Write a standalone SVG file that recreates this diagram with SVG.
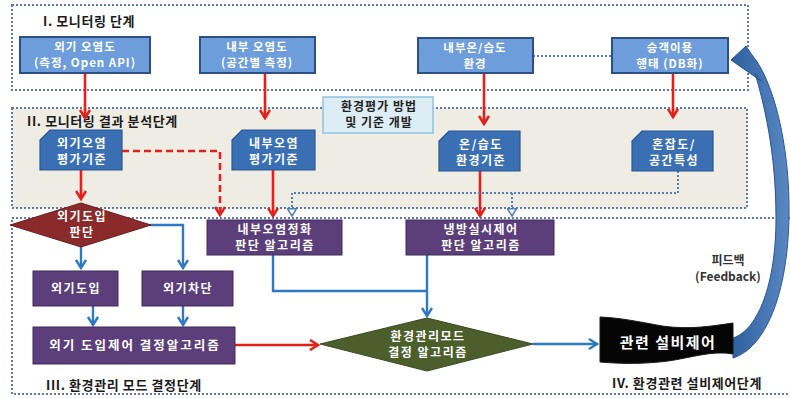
<svg xmlns="http://www.w3.org/2000/svg" width="790" height="398" viewBox="0 0 790 398">
<defs>
<style>
text{font-family:"Noto Sans CJK KR","Noto Sans",sans-serif;font-weight:bold;}
.ttl{font-size:13px;fill:#1a1a1a;letter-spacing:0.6px;}
.wt{font-size:12px;fill:#ffffff;text-anchor:middle;letter-spacing:1.5px;}
.tp{font-size:11.5px;fill:#ffffff;text-anchor:middle;letter-spacing:1px;}
.sec{fill:none;stroke:#5f7aa6;stroke-width:2;stroke-dasharray:2 2;}
.top{fill:#6d9ddb;stroke:#2d4f86;stroke-width:2;}
.card{fill:#3a70b3;stroke:#2b568f;stroke-width:1.2;}
.pur{fill:#5c3e7b;stroke:#3f2a58;stroke-width:1;}
.red{fill:none;stroke:#e3201b;stroke-width:2.6;}
.redd{fill:none;stroke:#e3201b;stroke-width:2.6;stroke-dasharray:7 4;}
.blu{fill:none;stroke:#2f78c2;stroke-width:2.4;}
.dot{fill:none;stroke:#4f7fbf;stroke-width:2;stroke-dasharray:2 2;}
</style>
<marker id="mr" viewBox="0 0 12 12" refX="10" refY="6" markerWidth="12" markerHeight="12" orient="auto" markerUnits="userSpaceOnUse"><path d="M2,1 L10,6 L2,11" fill="none" stroke="#e3201b" stroke-width="2.6"/></marker>
<marker id="mb" viewBox="0 0 12 12" refX="10" refY="6" markerWidth="12" markerHeight="12" orient="auto" markerUnits="userSpaceOnUse"><path d="M2,1 L10,6 L2,11" fill="none" stroke="#2f78c2" stroke-width="2.4"/></marker>
<marker id="mt" viewBox="0 0 12 12" refX="10" refY="6" markerWidth="11" markerHeight="11" orient="auto" markerUnits="userSpaceOnUse"><path d="M2,1 L10,6 L2,11 Z" fill="#ffffff" stroke="#4f7fbf" stroke-width="1.6"/></marker>
<linearGradient id="fb" x1="0" y1="0" x2="1" y2="0"><stop offset="0" stop-color="#2e5f9e"/><stop offset="1" stop-color="#5a88c4"/></linearGradient>
</defs>

<g id="stage1">
<rect class="sec" x="12" y="5" width="736" height="85" style="fill:#ffffff"/>
<text class="ttl" x="43" y="26">I. 모니터링 단계</text>
</g>
<g id="stage2">
<rect class="sec" x="12" y="108" width="735" height="100" style="fill:#efece4"/>
<text class="ttl" x="27" y="126">II. 모니터링 결과 분석단계</text>
</g>
<g id="stage34">
<rect class="sec" x="12" y="218" width="800" height="176"/>
<text class="ttl" x="46" y="390">III. 환경관리 모드 결정단계</text>
<text class="ttl" x="612" y="388">IV. 환경관련 설비제어단계</text>
</g>

<g id="connectors">
<path class="red" d="M85,73 V118" marker-end="url(#mr)"/>
<path class="red" d="M265,73 V118" marker-end="url(#mr)"/>
<path class="red" d="M484,73 V124" marker-end="url(#mr)"/>
<path class="red" d="M673,73 V117" marker-end="url(#mr)"/>
<path class="dot" d="M533,56 H612"/>
<path class="red" d="M81,170 V199" marker-end="url(#mr)"/>
<path class="redd" d="M122,151 H220 V215" marker-end="url(#mr)"/>
<path class="red" d="M273,170 V216" marker-end="url(#mr)"/>
<path class="red" d="M480,171 V216" marker-end="url(#mr)"/>
<path class="dot" d="M678,171 V193 H292 V216" marker-end="url(#mt)"/>
<path class="dot" d="M512,193 V216" marker-end="url(#mt)"/>
<path class="blu" d="M81,246 V268" marker-end="url(#mb)"/>
<path class="blu" d="M150,225 H183 V268" marker-end="url(#mb)"/>
<path class="blu" d="M93,306 V325" marker-end="url(#mb)"/>
<path class="blu" d="M183,306 V325" marker-end="url(#mb)"/>
<path class="red" d="M235,345 H318" marker-end="url(#mr)"/>
<path class="blu" d="M273,255 V291 H427"/>
<path class="blu" d="M427,255 V316" marker-end="url(#mb)"/>
<path class="blu" d="M533,344 H597" marker-end="url(#mb)"/>
<path d="M731,60 L746,46 L752,55 C772,78 790,142 789,215 C788,295 765,348 733,358 L733,338 C758,330 776,284 776,218 C776,152 764,104 755,73 L761,81 Z" fill="url(#fb)" stroke="#2a568f" stroke-width="1"/>
</g>

<g id="n-outdoor">
<rect class="top" x="20" y="37" width="130" height="36"/>
<text class="tp" x="85" y="51">외기 오염도</text>
<text class="tp" x="85" y="67">(측정, Open API)</text>
</g>
<g id="n-indoor">
<rect class="top" x="200" y="37" width="115" height="36"/>
<text class="tp" x="257" y="51">내부 오염도</text>
<text class="tp" x="257" y="67">(공간별 측정)</text>
</g>
<g id="n-temp">
<rect class="top" x="418" y="38" width="115" height="35"/>
<text class="tp" x="475" y="52">내부온/습도</text>
<text class="tp" x="475" y="68">환경</text>
</g>
<g id="n-passenger">
<rect class="top" x="612" y="38" width="116" height="35"/>
<text class="tp" x="670" y="52">승객이용</text>
<text class="tp" x="670" y="68">행태 (DB화)</text>
</g>
<g id="n-eval">
<rect x="323" y="97" width="110" height="36" fill="#dcedf5" stroke="#8ec3df" stroke-width="1.5"/>
<text x="379" y="111" style="font-size:12px;fill:#222;text-anchor:middle;letter-spacing:1px">환경평가 방법</text>
<text x="379" y="127" style="font-size:12px;fill:#222;text-anchor:middle;letter-spacing:1px">및 기준 개발</text>
</g>

<g id="n-c1">
<path class="card" d="M50,130 H122 V170 H40 V140 Z"/>
<text class="wt" x="82" y="148">외기오염</text>
<text class="wt" x="82" y="164">평가기준</text>
</g>
<g id="n-c2">
<path class="card" d="M242,130 H315 V170 H232 V140 Z"/>
<text class="wt" x="274" y="148">내부오염</text>
<text class="wt" x="274" y="164">평가기준</text>
</g>
<g id="n-c3">
<path class="card" d="M449,131 H520 V171 H439 V141 Z"/>
<text class="wt" x="481" y="149">온/습도</text>
<text class="wt" x="481" y="165">환경기준</text>
</g>
<g id="n-c4">
<path class="card" d="M642,131 H713 V171 H632 V141 Z"/>
<text class="wt" x="674" y="149">혼잡도/</text>
<text class="wt" x="674" y="165">공간특성</text>
</g>

<g id="n-judge">
<path d="M81,203 L151,225 L81,247 L10,225 Z" fill="#8a2a2a" stroke="#6a1e1e" stroke-width="1"/>
<text class="wt" x="82" y="221">외기도입</text>
<text class="wt" x="82" y="237">판단</text>
</g>
<g id="n-purify">
<rect class="pur" x="207" y="220" width="135" height="35"/>
<text class="wt" x="275" y="234">내부오염정화</text>
<text class="wt" x="275" y="250">판단 알고리즘</text>
</g>
<g id="n-cool">
<rect class="pur" x="406" y="220" width="148" height="35"/>
<text class="wt" x="481" y="234">냉방실시제어</text>
<text class="wt" x="481" y="250">판단 알고리즘</text>
</g>
<g id="n-in">
<rect class="pur" x="33" y="271" width="85" height="35"/>
<text class="wt" x="76" y="293">외기도입</text>
</g>
<g id="n-block">
<rect class="pur" x="142" y="271" width="91" height="35"/>
<text class="wt" x="188" y="293">외기차단</text>
</g>
<g id="n-ctrl">
<rect class="pur" x="33" y="327" width="202" height="37"/>
<text class="wt" x="135" y="350" style="font-size:12.5px;letter-spacing:2px">외기 도입제어 결정알고리즘</text>
</g>
<g id="n-mode">
<path d="M427,318 L533,344 L427,371 L320,344 Z" fill="#4b5e2b" stroke="#3a4a20" stroke-width="1"/>
<text class="wt" x="428" y="341">환경관리모드</text>
<text class="wt" x="428" y="357">결정 알고리즘</text>
</g>
<g id="n-equip">
<path d="M600,317 C622,318 640,322 662,326 C690,330 712,326 733,323 L733,354 C712,350 690,358 668,361 C645,364 622,364 600,362 Z" fill="#050505" stroke="#1a1a1a" stroke-width="1"/>
<text x="668" y="348" style="font-size:15px;fill:#ffffff;text-anchor:middle;letter-spacing:1.5px">관련 설비제어</text>
</g>
<g id="feedback-label">
<text x="728" y="265" style="font-size:12px;fill:#333;text-anchor:middle">피드백</text>
<text x="728" y="281" style="font-size:12px;fill:#333;text-anchor:middle">(Feedback)</text>
</g>
</svg>
